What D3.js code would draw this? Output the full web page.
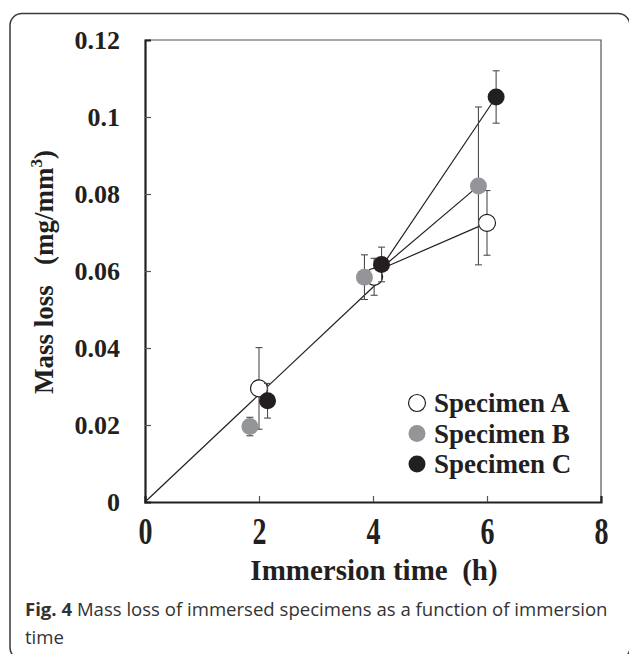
<html>
<script src='https://d3js.org/d3.v7.min.js'></script>
<style>
body { margin: 0; background: #fff; }
text { fill: #231f20; }
</style>
<body>
<svg width=629 height=654></svg>
<script>

// immersion time (h) and mass loss (mg/mm3) for each specimen
const timesA = [2.0, 4.02, 6.0];
const lossA = [0.0295, 0.0585, 0.0725];
const errA = [0.0106, 0.0048, 0.0084];

const timesB = [1.84, 3.85, 5.85];
const lossB = [0.0196, 0.0584, 0.0821];
const errB = [0.0024, 0.0058, 0.0205];

const timesC = [2.15, 4.15, 6.16];
const lossC = [0.0263, 0.0617, 0.1052];
const errC = [0.0045, 0.0045, 0.0068];

// trend line: origin up to 4 h, then a branch to each 6 h point
const trendStart = [[0, 0], [4.05, 0.0565]];
const branchFrom = [4.12, 0.0604];

const names = ["Specimen A", "Specimen B", "Specimen C"];
const fills = ["#ffffff", "#939598", "#231f20"];

const xTicks = [0, 2, 4, 6, 8];
const yTicks = [0, 0.02, 0.04, 0.06, 0.08, 0.1, 0.12];

const series = [
  {t: timesA, v: lossA, e: errA},
  {t: timesB, v: lossB, e: errB},
  {t: timesC, v: lossC, e: errC}
];

var svg = d3.select("svg");

// frame round figure + caption
svg.append("rect")
.attr("x", 10).attr("y", 13.5)
.attr("width", 620).attr("height", 646)
.attr("rx", 12)
.style("fill", "none")
.style("stroke", "#3a3a3a")
.style("stroke-width", 1.5);

var x = d3.scaleLinear().domain([0, 8]).range([145, 601]);
var y = d3.scaleLinear().domain([0, 0.12]).range([502, 40]);

// top and right border of the plot area
svg.append("path")
.attr("d", "M" + x(0) + "," + y(0.12) + "H" + x(8) + "V" + y(0))
.style("fill", "none")
.style("stroke", "#555")
.style("stroke-width", 1.2);

// axes, ticks pointing inwards
var yAxis = svg.append("g")
.attr("transform", "translate(" + x(0) + ",0)")
.call(d3.axisLeft(y).tickValues(yTicks).tickSize(-6).tickPadding(25)
  .tickFormat(function(d) { return d === 0 ? "0" : String(+d.toFixed(2)); }));

var xAxis = svg.append("g")
.attr("transform", "translate(0," + y(0) + ")")
.call(d3.axisBottom(x).tickValues(xTicks).tickSize(-6).tickPadding(16));

[yAxis, xAxis].forEach(function(a) {
  a.select(".domain").style("stroke", "#231f20").style("stroke-width", 2.2);
  a.selectAll(".tick line").style("stroke", "#555").style("stroke-width", 1.2);
  a.selectAll(".tick text")
  .attr("font-family", "'Liberation Serif', 'Times New Roman', serif")
  .attr("font-weight", "bold")
  .style("fill", "#231f20");
});
yAxis.selectAll(".tick text").attr("font-size", "26px").attr("dy", "0.34em");
// x labels are drawn a bit taller in the original
xAxis.selectAll(".tick text")
.attr("font-size", "28px")
.attr("y", 0).attr("dy", 0)
.attr("transform", "translate(0,41.5) scale(1,1.35)");
xAxis.selectAll(".tick").filter(function(d) { return d === 0 || d === 8; }).select("line").remove();
yAxis.selectAll(".tick").filter(function(d) { return d === 0 || d === 0.12; }).select("line").remove();

// axis titles
svg.append("text")
.attr("x", 374).attr("y", 580)
.attr("text-anchor", "middle")
.attr("font-family", "'Liberation Serif', 'Times New Roman', serif")
.attr("font-weight", "bold")
.attr("font-size", "29px")
.style("white-space", "pre")
.text("Immersion time  (h)");

var yt = svg.append("text")
.attr("transform", "translate(53,272) rotate(-90)")
.attr("text-anchor", "middle")
.attr("font-family", "'Liberation Serif', 'Times New Roman', serif")
.attr("font-weight", "bold")
.attr("font-size", "27px")
.style("white-space", "pre");
yt.append("tspan").text("Mass loss   (mg/mm");
yt.append("tspan").attr("dy", -11).attr("font-size", "17px").text("3");
yt.append("tspan").attr("dy", 11).text(")");

// trend lines
var line = d3.line().x(function(d) { return x(d[0]); }).y(function(d) { return y(d[1]); });
svg.append("path")
.attr("d", line(trendStart))
.style("fill", "none").style("stroke", "#231f20").style("stroke-width", 1.2);
series.forEach(function(s) {
  svg.append("path")
  .attr("d", line([branchFrom, [s.t[2], s.v[2]]]))
  .style("fill", "none").style("stroke", "#231f20").style("stroke-width", 1.2);
});

// error bars + points
series.forEach(function(s, k) {
  var pts = s.t.map(function(t, i) { return {t: t, v: s.v[i], e: s.e[i]}; });
  var g = svg.append("g");
  var eb = g.selectAll(".eb").data(pts).enter().append("g")
  .style("stroke", "#4d4d4f").style("stroke-width", 1.1);
  eb.append("line")
  .attr("x1", function(d) { return x(d.t); }).attr("x2", function(d) { return x(d.t); })
  .attr("y1", function(d) { return y(d.v - d.e); }).attr("y2", function(d) { return y(d.v + d.e); });
  [-1, 1].forEach(function(sg) {
    eb.append("line")
    .attr("x1", function(d) { return x(d.t) - 3.5; }).attr("x2", function(d) { return x(d.t) + 3.5; })
    .attr("y1", function(d) { return y(d.v + sg * d.e); }).attr("y2", function(d) { return y(d.v + sg * d.e); });
  });
  g.selectAll("circle").data(pts).enter().append("circle")
  .attr("cx", function(d) { return x(d.t); })
  .attr("cy", function(d) { return y(d.v); })
  .attr("r", 8.5)
  .style("fill", fills[k])
  .style("stroke", k === 0 ? "#231f20" : "none")
  .style("stroke-width", 1.2);
});

// legend
var leg = svg.append("g").attr("transform", "translate(417,403)");
names.forEach(function(n, i) {
  leg.append("circle")
  .attr("cx", 0).attr("cy", i * 30.5)
  .attr("r", 8.5)
  .style("fill", fills[i])
  .style("stroke", i === 0 ? "#231f20" : "none")
  .style("stroke-width", 1.2);
  leg.append("text")
  .attr("x", 17).attr("y", i * 30.5 + 9)
  .attr("font-family", "'Liberation Serif', 'Times New Roman', serif")
  .attr("font-weight", "bold")
  .attr("font-size", "27px")
  .text(n);
});

// caption
var cap = svg.append("text")
.attr("x", 25).attr("y", 616)
.attr("font-family", "'Open Sans', sans-serif")
.attr("font-size", "16px")
.style("fill", "#333");
cap.append("tspan").attr("font-weight", "bold").text("Fig. 4");
cap.append("tspan").text(" Mass loss of immersed specimens as a function of immersion");
var w = cap.node().getComputedTextLength();
cap.attr("font-size", (16 * 583 / w) + "px");
svg.append("text")
.attr("x", 25).attr("y", 644)
.attr("font-family", "'Open Sans', sans-serif")
.attr("font-size", (16 * 583 / w) + "px")
.style("fill", "#333")
.text("time");

</script>
</body>
</html>
